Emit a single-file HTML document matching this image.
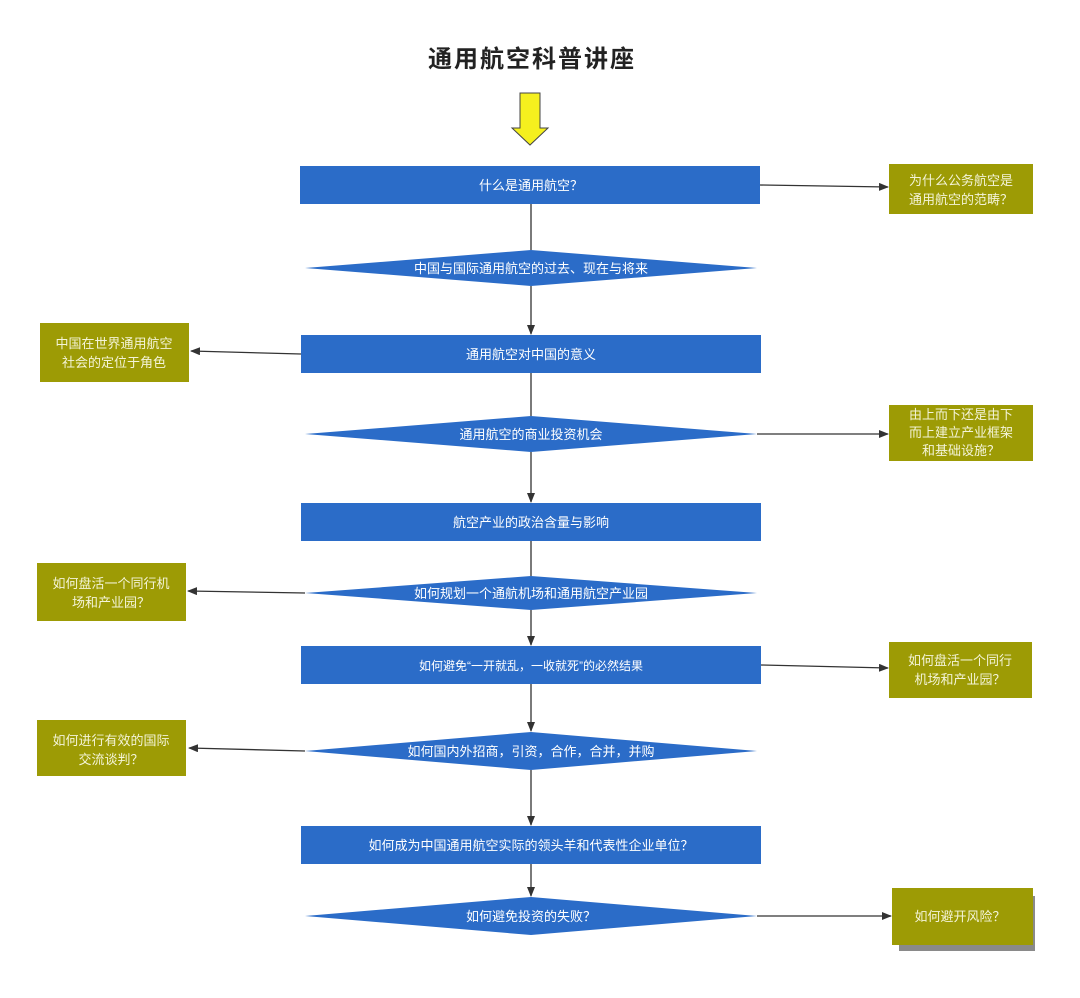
<!DOCTYPE html>
<html><head><meta charset="utf-8"><style>
body{margin:0;background:#fff;}
svg text{font-family:"Liberation Sans","Noto Sans CJK SC",sans-serif;}
</style></head><body>
<svg width="1080" height="993" viewBox="0 0 1080 993" xmlns="http://www.w3.org/2000/svg">
<defs><marker id="a" markerWidth="10" markerHeight="8" refX="9" refY="4" orient="auto" markerUnits="userSpaceOnUse"><path d="M0,0 L10,4 L0,8 Z" fill="#333"/></marker></defs>
<rect width="1080" height="993" fill="#fff"/>
<text x="532" y="67" text-anchor="middle" font-size="24" font-weight="bold" fill="#222" letter-spacing="2">通用航空科普讲座</text>
<path d="M520,93 L540,93 L540,128 L548,128 L530,145 L512,128 L520,128 Z" fill="#f5f01e" stroke="#444" stroke-width="1"/>
<g stroke="#333" stroke-width="1.3" fill="none">
<line x1="531" y1="204" x2="531" y2="250"/>
<line x1="531" y1="286" x2="531" y2="334" marker-end="url(#a)"/>
<line x1="531" y1="373" x2="531" y2="416"/>
<line x1="531" y1="452" x2="531" y2="502" marker-end="url(#a)"/>
<line x1="531" y1="541" x2="531" y2="576"/>
<line x1="531" y1="610" x2="531" y2="645" marker-end="url(#a)"/>
<line x1="531" y1="684" x2="531" y2="731" marker-end="url(#a)"/>
<line x1="531" y1="770" x2="531" y2="825" marker-end="url(#a)"/>
<line x1="531" y1="864" x2="531" y2="896" marker-end="url(#a)"/>
<line x1="760" y1="185" x2="888" y2="187" marker-end="url(#a)"/>
<line x1="301" y1="354" x2="191" y2="351" marker-end="url(#a)"/>
<line x1="757" y1="434" x2="888" y2="434" marker-end="url(#a)"/>
<line x1="305" y1="593" x2="188" y2="591" marker-end="url(#a)"/>
<line x1="761" y1="665" x2="888" y2="668" marker-end="url(#a)"/>
<line x1="305" y1="751" x2="189" y2="748" marker-end="url(#a)"/>
<line x1="757" y1="916" x2="891" y2="916" marker-end="url(#a)"/>
</g>
<g fill="#2b6cc8">
<rect x="300" y="166" width="460" height="38"/>
<polygon points="305,268 531,250 757,268 531,286"/>
<rect x="301" y="335" width="460" height="38"/>
<polygon points="305,434 531,416 757,434 531,452"/>
<rect x="301" y="503" width="460" height="38"/>
<polygon points="305,593 531,576 757,593 531,610"/>
<rect x="301" y="646" width="460" height="38"/>
<polygon points="305,751 531,732 757,751 531,770"/>
<rect x="301" y="826" width="460" height="38"/>
<polygon points="305,916 531,897 757,916 531,935"/>
</g>
<g fill="#fff" font-size="13" text-anchor="middle">
<text x="531" y="190">什么是通用航空？</text>
<text x="531" y="273">中国与国际通用航空的过去、现在与将来</text>
<text x="531" y="359">通用航空对中国的意义</text>
<text x="531" y="439">通用航空的商业投资机会</text>
<text x="531" y="527">航空产业的政治含量与影响</text>
<text x="531" y="598">如何规划一个通航机场和通用航空产业园</text>
<text x="531" y="670" font-size="12">如何避免“一开就乱，一收就死”的必然结果</text>
<text x="531" y="756">如何国内外招商，引资，合作，合并，并购</text>
<text x="531" y="850">如何成为中国通用航空实际的领头羊和代表性企业单位？</text>
<text x="531" y="921">如何避免投资的失败？</text>
</g>
<rect x="899" y="896" width="136" height="55" fill="#8a8a8a"/>
<g fill="#9d9b05">
<rect x="889" y="164" width="144" height="50"/>
<rect x="40" y="323" width="149" height="59"/>
<rect x="889" y="405" width="144" height="56"/>
<rect x="37" y="563" width="149" height="58"/>
<rect x="889" y="642" width="143" height="56"/>
<rect x="37" y="720" width="149" height="56"/>
<rect x="892" y="888" width="141" height="57"/>
</g>
<g fill="#f4f4d8" font-size="13" text-anchor="middle">
<text x="961" y="185">为什么公务航空是</text><text x="961" y="204">通用航空的范畴？</text>
<text x="114" y="348">中国在世界通用航空</text><text x="114" y="367">社会的定位于角色</text>
<text x="961" y="419">由上而下还是由下</text><text x="961" y="437">而上建立产业框架</text><text x="961" y="455">和基础设施？</text>
<text x="111" y="588">如何盘活一个同行机</text><text x="111" y="607">场和产业园？</text>
<text x="960" y="665">如何盘活一个同行</text><text x="960" y="684">机场和产业园？</text>
<text x="111" y="745">如何进行有效的国际</text><text x="111" y="764">交流谈判？</text>
<text x="960" y="921">如何避开风险？</text>
</g>
</svg>
</body></html>
